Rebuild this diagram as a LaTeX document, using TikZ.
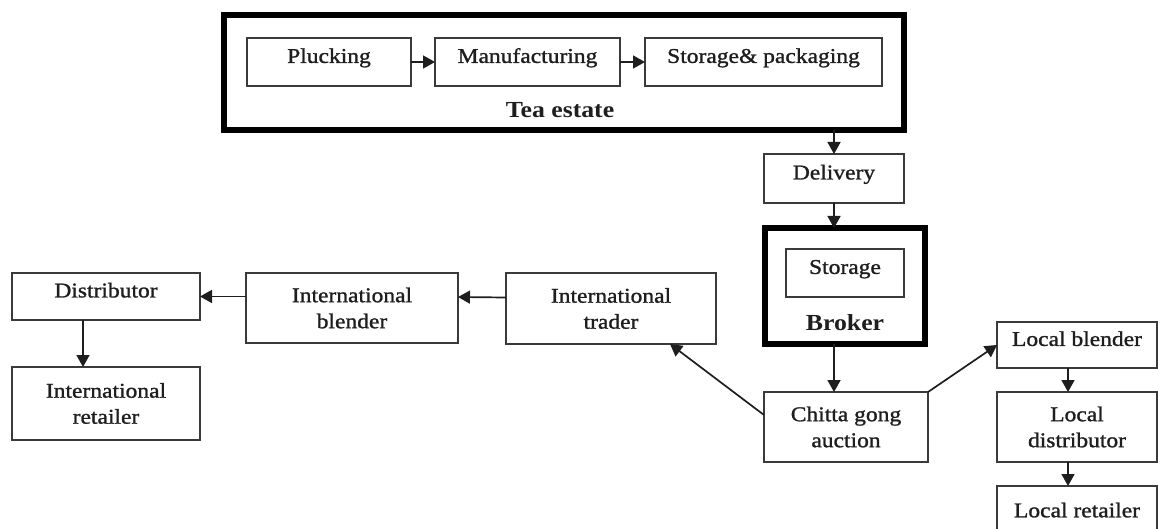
\documentclass[tikz,border=0pt]{standalone}
\usepackage{fontspec}
\setmainfont{Liberation Serif}[FakeStretch=1.12,UprightFeatures={FakeBold=1.2}]
\usetikzlibrary{arrows.meta,fit}
\definecolor{ink}{HTML}{1E1E1E}
\definecolor{edge}{HTML}{3A3A3A}
\begin{document}
\begin{tikzpicture}[x=1pt,y=-1pt,
  every node/.style={inner sep=0pt,outer sep=0pt,text=ink,font=\fontsize{21}{26}\selectfont},
  box/.style={draw=edge,line width=2pt,fill=white,align=center},
  onebox/.style={box,text height=0.68em,text depth=0.5em},
  frame/.style={draw=black,line width=6pt},
  heading/.style={font=\fontsize{23}{28}\selectfont\bfseries},
  flow/.style={draw=ink,line width=1.7pt,-{Triangle[length=12pt,width=13pt]}}]
\useasboundingbox (0,0) rectangle (1158,529);
\clip (0,0) rectangle (1158,529);

% tea estate
\node[frame,fit={(223.5,15.5)(903.5,130.5)}] (estate) {};
\node[onebox,minimum width=164pt,minimum height=48pt] (pluck) at (329,62) {Plucking};
\node[onebox,minimum width=185pt,minimum height=48pt] (manuf) at (527.5,62) {Manufacturing};
\node[onebox,minimum width=237pt,minimum height=48pt] (stpack) at (763.5,62) {Storage\& packaging};
\node[heading] (estatelbl) at (560,110) {Tea estate};

% delivery and broker
\node[onebox,minimum width=140pt,minimum height=49pt] (delivery) at (834,178.5) {Delivery};
\node[frame,fit={(765,228)(925,344)}] (broker) {};
\node[onebox,minimum width=118pt,minimum height=48pt] (storage) at (845,273) {Storage};
\node[heading] (brokerlbl) at (845,323) {Broker};

% auction
\node[box,minimum width=164pt,minimum height=70pt] (auction) at (846,427) {Chitta gong\\auction};

% international chain
\node[box,minimum width=210pt,minimum height=71pt] (trader) at (611,308.5) {International\\trader};
\node[box,minimum width=212pt,minimum height=70pt] (iblender) at (352,308) {International\\blender};
\node[onebox,minimum width=188pt,minimum height=47pt] (distributor) at (106,296.5) {Distributor};
\node[box,minimum width=188pt,minimum height=73pt] (iretailer) at (106,403.5) {International\\retailer};

% local chain
\node[onebox,minimum width=160pt,minimum height=46pt] (lblender) at (1077,345) {Local blender};
\node[box,minimum width=160pt,minimum height=70pt] (ldistributor) at (1077,427) {Local\\distributor};
\node[box,minimum width=160pt,minimum height=56pt,anchor=north,text height=0.68em] (lretailer) at (1077,486) {Local retailer};

% connectors
\draw[flow] (pluck.east) -- (manuf.west);
\draw[flow] (manuf.east) -- (stpack.west);
\draw[flow] (delivery.north |- estate.south) -- (delivery.north);
\draw[flow] (delivery.south) -- (delivery.south |- broker.north);
\draw[flow] (delivery.south |- broker.south) -- (delivery.south |- auction.north);
\draw[flow] ([yshift=12pt]auction.west) -- ([xshift=59pt]trader.south);
\draw[flow] ([yshift=11pt]trader.west) -- ([yshift=11pt]iblender.east);
\draw[flow] (distributor.east -| iblender.west) -- (distributor.east);
\draw[flow] ([xshift=-23pt]distributor.south) -- ([xshift=-23pt]iretailer.north);
\draw[flow] (auction.north east) -- (lblender.west);
\draw[flow] ([xshift=-9pt]lblender.south) -- ([xshift=-9pt]ldistributor.north);
\draw[flow] ([xshift=-9pt]ldistributor.south) -- ([xshift=-9pt]lretailer.north);
\end{tikzpicture}
\end{document}
